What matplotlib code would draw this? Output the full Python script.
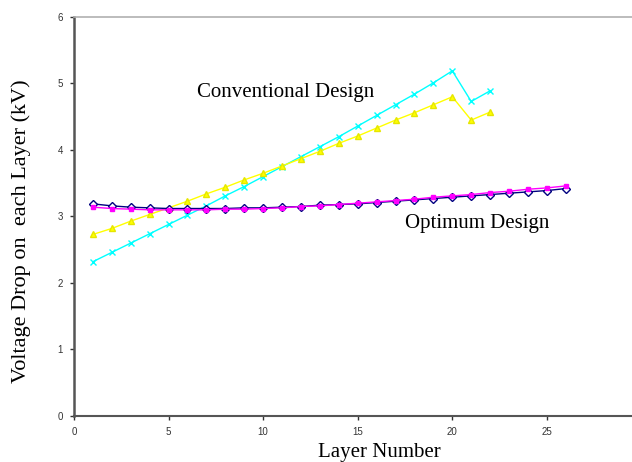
import matplotlib
matplotlib.use("Agg")
import matplotlib.pyplot as plt

# ---- data ----
layers_conv = list(range(1, 23))
conv_cyan = [2.32, 2.46, 2.60, 2.74, 2.88, 3.02, 3.16, 3.31, 3.45, 3.60, 3.75,
             3.90, 4.05, 4.20, 4.36, 4.52, 4.68, 4.84, 5.01, 5.19, 4.73, 4.89]
conv_yellow = [2.73, 2.82, 2.93, 3.03, 3.13, 3.23, 3.34, 3.44, 3.55, 3.65, 3.76,
               3.87, 3.98, 4.10, 4.21, 4.33, 4.45, 4.56, 4.68, 4.80, 4.45, 4.57]

layers_opt = list(range(1, 27))
opt_navy = [3.19, 3.16, 3.14, 3.13, 3.12, 3.12, 3.12, 3.12, 3.13, 3.13, 3.14,
            3.15, 3.17, 3.18, 3.19, 3.21, 3.23, 3.25, 3.27, 3.29, 3.31, 3.33,
            3.35, 3.37, 3.39, 3.42]
opt_magenta = [3.14, 3.12, 3.11, 3.10, 3.10, 3.10, 3.10, 3.11, 3.11, 3.12, 3.13,
               3.15, 3.16, 3.18, 3.20, 3.22, 3.24, 3.26, 3.29, 3.31, 3.33, 3.36,
               3.38, 3.41, 3.43, 3.46]

x_ticks = [0, 5, 10, 15, 20, 25]
y_ticks = [0, 1, 2, 3, 4, 5, 6]

SERIF = ["Liberation Serif", "DejaVu Serif"]
SANS = ["Liberation Sans", "DejaVu Sans"]

fig = plt.figure(figsize=(6.32, 4.62), dpi=100)
ax = fig.add_axes([0.117, 0.0996, 0.883, 0.8636])

ax.plot(layers_conv, conv_cyan, color="#00ffff", lw=1.0, marker="x", ms=4,
        mew=1.0, zorder=3)
ax.plot(layers_conv, conv_yellow, color="#ffff00", lw=1.0, marker="^", ms=4,
        mfc="#ffff00", mec="#e6e600", zorder=3)
ax.plot(layers_opt, opt_navy, color="#000080", lw=1.0, marker="D", ms=4.5,
        mfc="white", mec="#000080", mew=1.0, zorder=4)
ax.plot(layers_opt, opt_magenta, color="#ff00ff", lw=1.0, marker="s", ms=3.5,
        mfc="#ff00ff", mec="#ff00ff", zorder=5)

ax.text(6.5, 4.87, "Conventional Design", fontsize=15, family=SERIF,
        va="center", ha="left")
ax.text(17.5, 2.89, "Optimum Design", fontsize=15, family=SERIF,
        va="center", ha="left")

ax.set_xlim(0, 29.5)
ax.set_ylim(0, 6)
ax.set_xticks(x_ticks)
ax.set_yticks(y_ticks)
ax.tick_params(direction="out", length=3, width=1, labelsize=7,
               colors="#333333", pad=5)
for lab in ax.get_xticklabels() + ax.get_yticklabels():
    lab.set_family(SANS)

ax.set_xlabel("Layer Number", fontsize=15, family=SERIF)
ax.set_ylabel("Voltage Drop on  each Layer (kV)", fontsize=16, family=SERIF)
ax.xaxis.set_label_coords(0.547, -0.068)
ax.yaxis.set_label_coords(-0.077, 0.462)

ax.spines["left"].set_color("#555555")
ax.spines["left"].set_linewidth(1.8)
ax.spines["bottom"].set_color("#555555")
ax.spines["bottom"].set_linewidth(1.5)
ax.spines["top"].set_color("#b0b0b0")
ax.spines["top"].set_linewidth(1.2)
ax.spines["right"].set_visible(False)

fig.savefig("out.png", dpi=100)
